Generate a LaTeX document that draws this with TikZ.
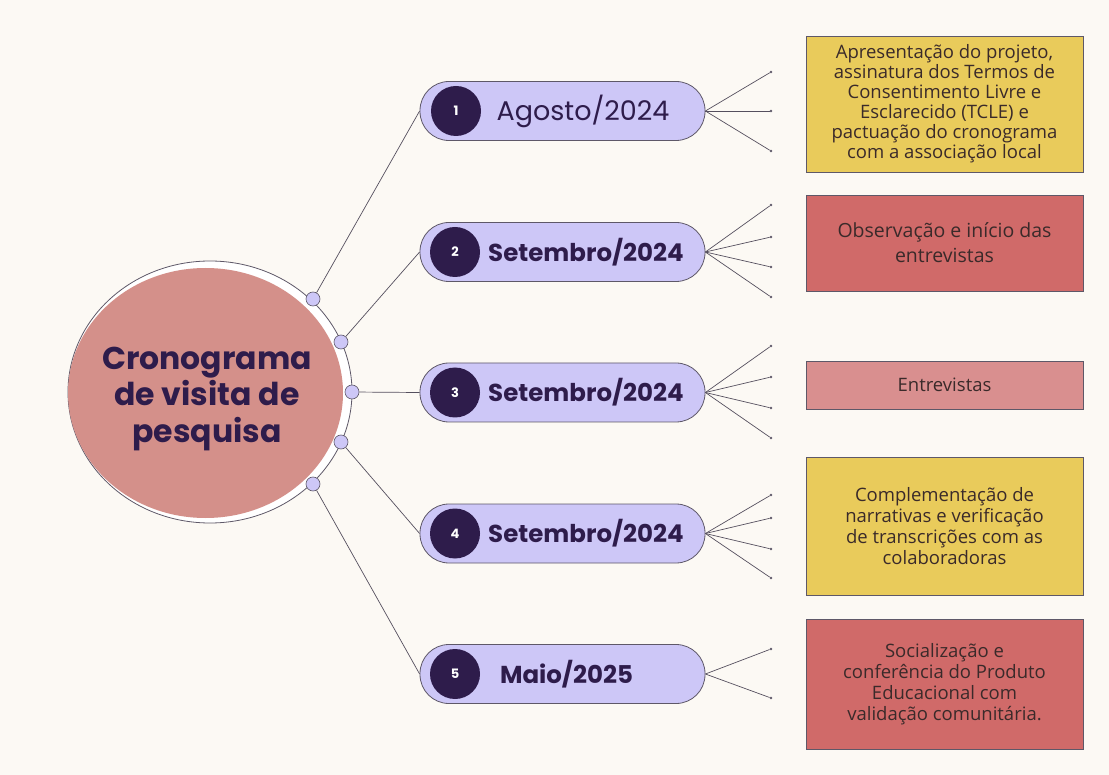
\documentclass[tikz,border=0pt]{standalone}
\usepackage{fontspec}
\setmainfont{Open Sans}
\newfontfamily\pop{Poppins}
\usetikzlibrary{calc,shapes.geometric}
\definecolor{bg}{HTML}{FCF9F4}
\definecolor{rose}{HTML}{D4908A}
\definecolor{lav}{HTML}{CDC7F7}
\definecolor{deep}{HTML}{2E1C4B}
\definecolor{yel}{HTML}{E9CB5B}
\definecolor{redb}{HTML}{D06A69}
\definecolor{pinkb}{HTML}{D98F8F}
\definecolor{edge}{HTML}{5E5868}
\definecolor{btext}{HTML}{3A2A2A}
\tikzset{
  conn/.style={draw=edge!90!black, line width=0.7pt},
  pill/.style={draw=edge, line width=0.8pt, fill=lav, rounded corners=29pt, minimum width=285pt, minimum height=59pt, inner sep=0pt},
  badge/.style={circle, fill=deep, minimum size=50pt, inner sep=0pt, text=white, font=\pop\bfseries\fontsize{13}{13}\selectfont},
  dotc/.style={circle, draw=edge, fill=lav, line width=0.6pt, minimum size=14pt, inner sep=0pt},
  tip/.style={circle, fill=edge, minimum size=2.6pt, inner sep=0pt},
  infobox/.style={draw=edge, line width=0.8pt, minimum width=277pt, inner sep=0pt, align=center, text=btext, font=\fontsize{18.5}{21}\selectfont},
  ptext/.style={text=deep, inner sep=0pt},
  septext/.style={ptext, font=\pop\bfseries\fontsize{24.5}{24.5}\selectfont}
}
\begin{document}
\begin{tikzpicture}[x=1pt,y=-1pt]
\fill[bg] (0,0) rectangle (1109,775);
\useasboundingbox (0,0) rectangle (1109,775);
% central circle
\node[ellipse, draw=edge, line width=0.8pt, fill=white, minimum width=284pt, minimum height=262pt, inner sep=0pt] (ring) at (210,392) {};
\fill[rose] (205.5,393) ellipse [x radius=137.5, y radius=125];
\node[ptext, align=center, font=\pop\bfseries\fontsize{31.5}{36.5}\selectfont] (title) at (207,399) {Cronograma\\de visita de\\pesquisa};
% dots on ring
\node[dotc] (d1) at (313,299) {};
\node[dotc] (d2) at (341,342) {};
\node[dotc] (d3) at (352,392) {};
\node[dotc] (d4) at (341,442) {};
\node[dotc] (d5) at (313,484) {};
% pills
\node[pill] (p1) at (562.5,111) {};
\node[pill] (p2) at (562.5,252) {};
\node[pill] (p3) at (562.5,392.5) {};
\node[pill] (p4) at (562.5,533.5) {};
\node[pill] (p5) at (562.5,674) {};
% connectors
\draw[conn] (d1) -- (p1.west);
\draw[conn] (d2) -- (p2.west);
\draw[conn] (d3) -- (p3.west);
\draw[conn] (d4) -- (p4.west);
\draw[conn] (d5) -- (p5.west);
% badges
\node[badge] (n1) at (456,111) {1};
\node[badge] (n2) at (455,252) {2};
\node[badge] (n3) at (455,392.5) {3};
\node[badge] (n4) at (455,533.5) {4};
\node[badge] (n5) at (455,674) {5};
% pill labels
\node[ptext, font=\pop\fontsize{27}{27}\selectfont] (t1) at (583,111) {Agosto/2024};
\node[septext] (t2) at (586,252) {Setembro/2024};
\node[septext] (t3) at (586,392.5) {Setembro/2024};
\node[septext] (t4) at (586,533.5) {Setembro/2024};
\node[septext] (t5) at (566.5,674) {Maio/2025};
% fan end points
\foreach \n/\y in {a/72,b/111,c/151}{\node[tip] (f1\n) at (771,\y) {}; \draw[conn] (p1.east) -- (f1\n);}
\foreach \n/\y in {a/205,b/237,c/267,d/297}{\node[tip] (f2\n) at (771,\y) {}; \draw[conn] (p2.east) -- (f2\n);}
\foreach \n/\y in {a/346,b/377,c/408,d/438}{\node[tip] (f3\n) at (771,\y) {}; \draw[conn] (p3.east) -- (f3\n);}
\foreach \n/\y in {a/495,b/518,c/549,d/578}{\node[tip] (f4\n) at (771,\y) {}; \draw[conn] (p4.east) -- (f4\n);}
\foreach \n/\y in {a/649,b/698}{\node[tip] (f5\n) at (771,\y) {}; \draw[conn] (p5.east) -- (f5\n);}
% info boxes
\node[infobox, fill=yel, minimum height=136pt, font=\fontsize{18.5}{20}\selectfont] (b1) at (944.5,104) {Apresentação do projeto,\\assinatura dos Termos de\\Consentimento Livre e\\Esclarecido (TCLE) e\\pactuação do cronograma\\com a associação local};
\node[infobox, fill=redb, minimum height=96pt, font=\fontsize{19.5}{25}\selectfont] (b2) at (944.5,243) {Observação e início das\\entrevistas};
\node[infobox, fill=pinkb, minimum height=48pt] (b3) at (944.5,385) {Entrevistas};
\node[infobox, fill=yel, minimum height=138pt] (b4) at (944.5,526) {Complementação de\\narrativas e verificação\\de transcrições com as\\colaboradoras};
\node[infobox, fill=redb, minimum height=130pt] (b5) at (944.5,684) {Socialização e\\conferência do Produto\\Educacional com\\validação comunitária.};
\end{tikzpicture}
\end{document}
